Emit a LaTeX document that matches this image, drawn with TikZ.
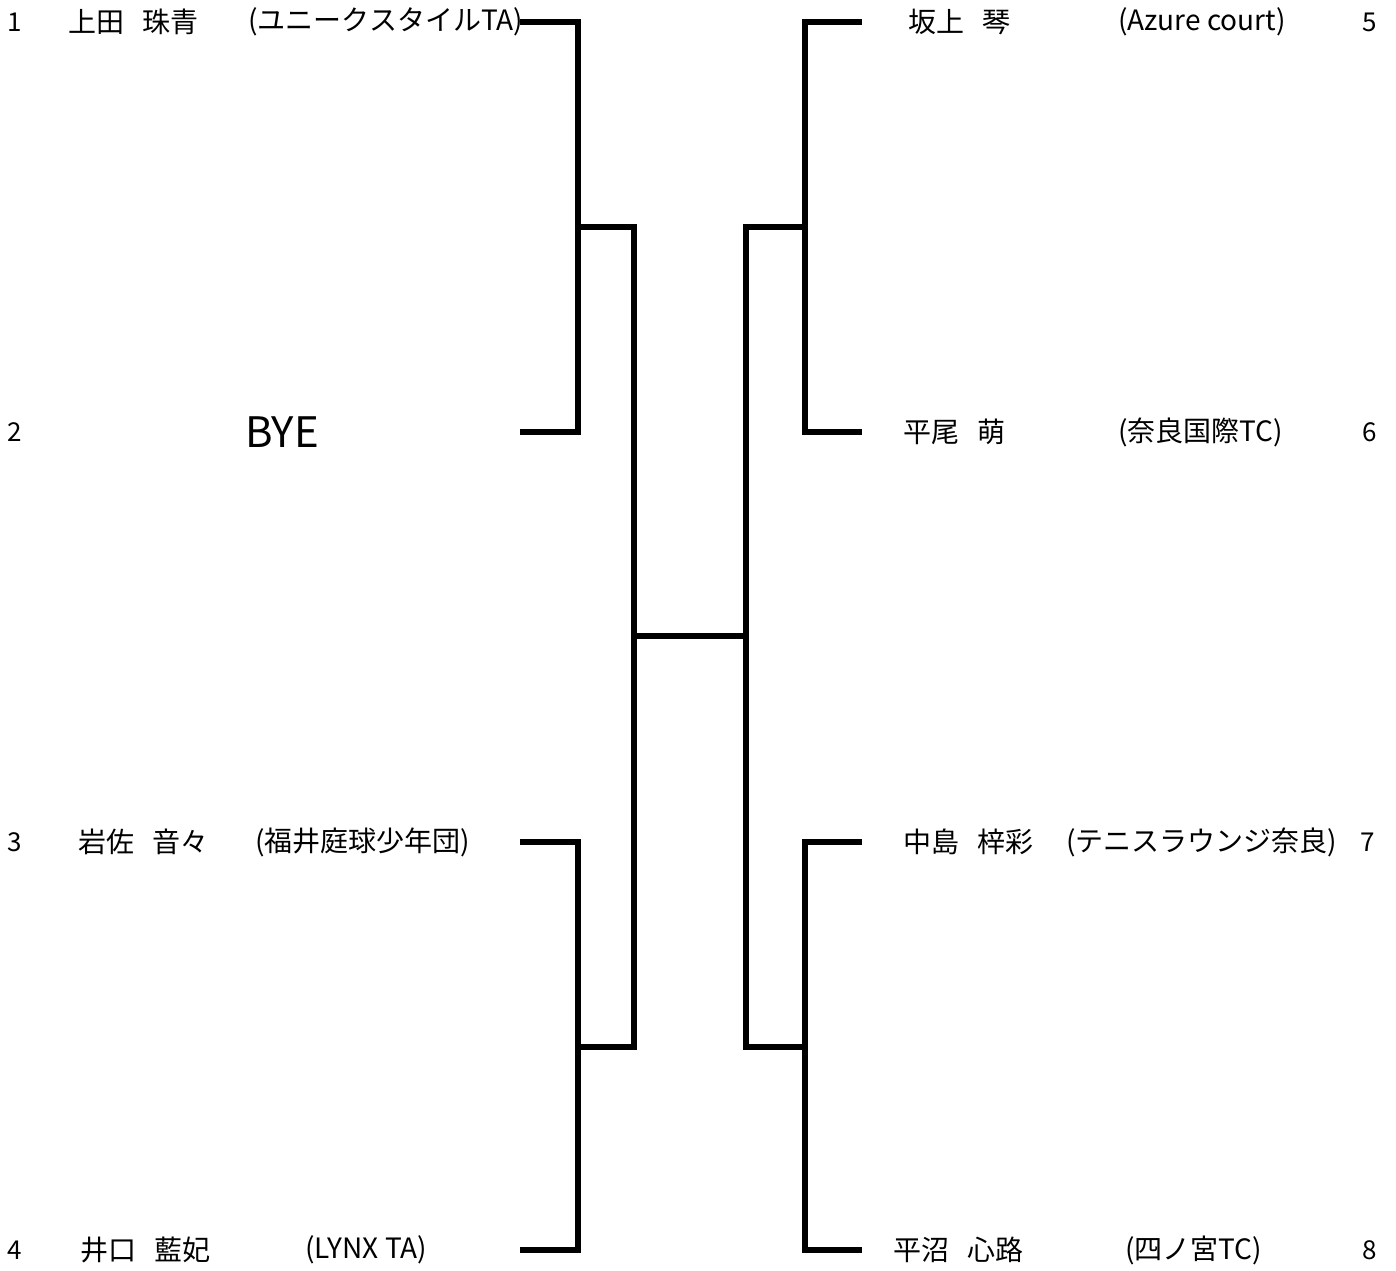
\documentclass[tikz,border=0pt]{standalone}
\usepackage{fontspec}
\setmainfont{Noto Sans CJK JP}
\usepackage{tikz}

\newcommand{\gap}{\hspace{0.65em}}

\begin{document}
\begin{tikzpicture}[x=0.5pt,y=-0.5pt,
	line/.style={line width=2.6pt,line join=miter},
	txt/.style={anchor=west,inner sep=0pt,font=\fontsize{14pt}{16pt}\selectfont},
	num/.style={inner sep=0pt,font=\fontsize{13pt}{15pt}\selectfont}]
	\useasboundingbox (0,0) rectangle (1396,1270);
	%
	\node[num] (n1) at (15,22) {1};
	\node[num] (n2) at (15,432) {2};
	\node[num] (n3) at (15,842) {3};
	\node[num] (n4) at (15,1250) {4};
	\node[num] (n5) at (1370,22) {5};
	\node[num] (n6) at (1370,432) {6};
	\node[num] (n7) at (1368,842) {7};
	\node[num] (n8) at (1370,1250) {8};
	%
	\node[txt] (p1) at (68,22) {上田\gap 珠青};
	\node[txt] (c1) at (248,22) {(ユニークスタイルTA)};
	\node[inner sep=0pt,font=\fontsize{21pt}{23pt}\selectfont] (p2) at (282,432) {BYE};
	\node[txt] (p3) at (78,842) {岩佐\gap 音々};
	\node[txt] (c3) at (255,842) {(福井庭球少年団)};
	\node[txt] (p4) at (80,1250) {井口\gap 藍妃};
	\node[txt] (c4) at (305,1250) {(LYNX TA)};
	\node[txt] (p5) at (908,22) {坂上\gap 琴};
	\node[txt] (c5) at (1118,22) {(Azure court)};
	\node[txt] (p6) at (903,432) {平尾\gap 萌};
	\node[txt] (c6) at (1118,432) {(奈良国際TC)};
	\node[txt] (p7) at (903,842) {中島\gap 梓彩};
	\node[txt] (c7) at (1066,842) {(テニスラウンジ奈良)};
	\node[txt] (p8) at (893,1250) {平沼\gap 心路};
	\node[txt] (c8) at (1125,1250) {(四ノ宮TC)};
	%
	\coordinate (a1) at (520,22);
	\coordinate (a2) at (520,432);
	\coordinate (a3) at (520,842);
	\coordinate (a4) at (520,1250);
	\coordinate (b1) at (862,22);
	\coordinate (b2) at (862,432);
	\coordinate (b3) at (862,842);
	\coordinate (b4) at (862,1250);
	\coordinate (s1) at (578,227);
	\coordinate (s2) at (578,1047);
	\coordinate (t1) at (805,227);
	\coordinate (t2) at (805,1047);
	\coordinate (cl) at (634,636);
	\coordinate (cr) at (746,636);
	%
	\draw[line] (a1) -| (s1) |- (a2);
	\draw[line] (a3) -| (s2) |- (a4);
	\draw[line] (b1) -| (t1) |- (b2);
	\draw[line] (b3) -| (t2) |- (b4);
	\draw[line] (s1) -| (cl) |- (s2);
	\draw[line] (t1) -| (cr) |- (t2);
	\draw[line] (cl) -- (cr);
\end{tikzpicture}
\end{document}
